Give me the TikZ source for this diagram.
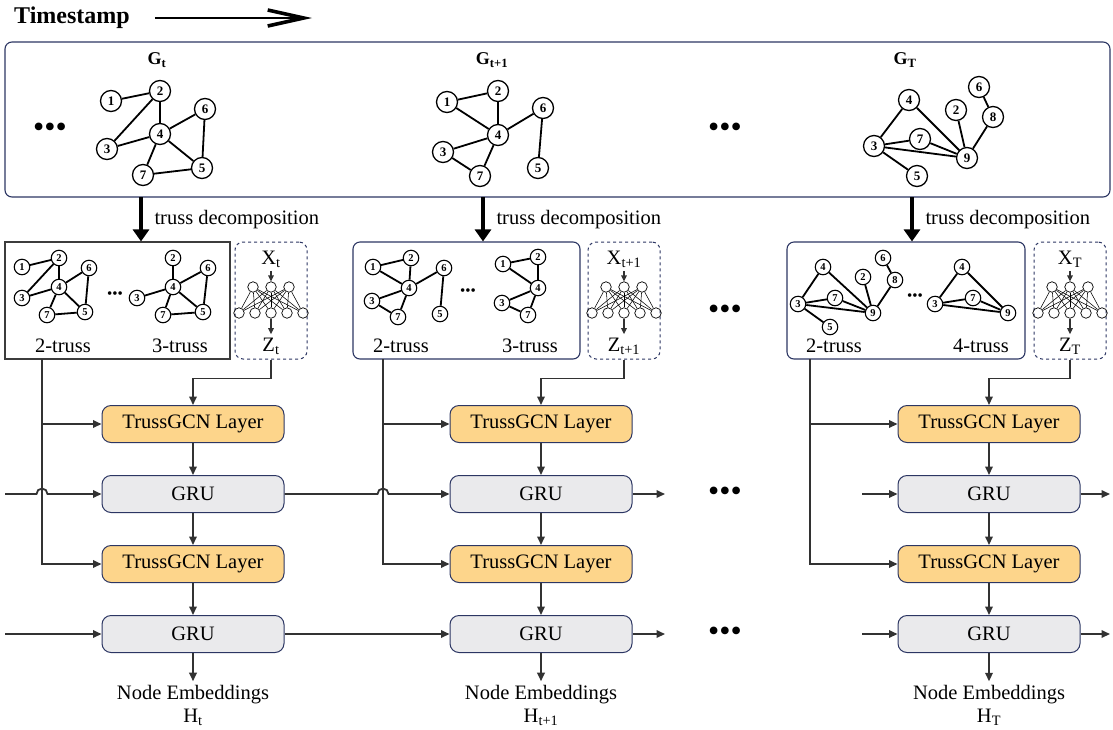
\documentclass[tikz,border=0pt]{standalone}
\usepackage{fontspec}
\setmainfont{Liberation Serif}
\usetikzlibrary{arrows.meta,calc}

\definecolor{navy}{RGB}{44,54,99}
\definecolor{gcnfill}{RGB}{253,213,139}
\definecolor{grufill}{RGB}{234,234,236}
\definecolor{wire}{RGB}{50,50,50}
\definecolor{boxgray}{RGB}{60,60,60}

\begin{document}
\begin{tikzpicture}[x=1pt,y=-1pt,
    font=\fontsize{20.5}{23}\selectfont,
    gn/.style={circle,draw,line width=1.3pt,minimum size=21pt,inner sep=0pt,font=\fontsize{13}{13}\selectfont\bfseries},
    sn/.style={circle,draw,line width=1.1pt,minimum size=15.5pt,inner sep=0pt,font=\fontsize{10.5}{10.5}\selectfont\bfseries},
    gline/.style={line width=1.8pt},
    nn/.style={circle,draw,line width=0.7pt,minimum size=10.5pt,inner sep=0pt},
    panel/.style={draw=navy,line width=1.1pt,rounded corners=7pt,inner sep=0pt},
    mlpbox/.style={draw=navy,line width=1pt,dashed,rounded corners=8pt,inner sep=0pt,minimum width=72pt,minimum height=117pt},
    gcn/.style={draw=navy,line width=1pt,rounded corners=9pt,fill=gcnfill,minimum width=182pt,minimum height=37pt},
    gru/.style={gcn,fill=grufill},
    link/.style={draw=wire,line width=1.8pt,-{Triangle[length=8.5pt,width=7.5pt]}},
    smallarr/.style={draw=wire,line width=1.4pt,-{Triangle[length=6pt,width=5.5pt]}},
    decomp/.style={line width=4.5pt,-{Triangle[length=12pt,width=16pt]}},
    ellip/.style={font=\fontsize{32}{32}\selectfont},
    sellip/.style={font=\fontsize{15}{15}\selectfont}]
  \useasboundingbox (0,0) rectangle (1113,729);

  % timeline
  \node[font=\fontsize{24}{24}\selectfont\bfseries,anchor=west,inner sep=0pt] (stamp) at (14,18) {Timestamp};
  \coordinate (arrend) at (312,18);
  \draw[line width=1.8pt,-{Straight Barb[length=36pt,width=16pt,line width=3.6pt]}] ([xshift=25pt]stamp.east) -- (arrend);

  % snapshots
  \node[panel,minimum width=1105pt,minimum height=155pt] (top) at (557.5,119.5) {};
  \node[font=\fontsize{18}{18}\selectfont\bfseries] (lab1) at (157,60) {G\textsubscript{t}};
  \node[font=\fontsize{18}{18}\selectfont\bfseries] (lab2) at (492,60) {G\textsubscript{t+1}};
  \node[font=\fontsize{18}{18}\selectfont\bfseries] (lab3) at (905,60) {G\textsubscript{T}};
  \node[ellip] (dA) at (50,130) {•••};
  \node[ellip] (dB) at (725,130) {•••};

  \foreach \n/\x/\y in {1/111/101,2/160/91,3/107/149,4/160/134,5/202/168,6/205/109,7/143/175}
    \node[gn] (a\n) at (\x,\y) {\n};
  \foreach \p/\q in {1/2,2/4,2/3,3/4,4/6,4/7,4/5,6/5,7/5}
    \draw[gline] (a\p) -- (a\q);

  \foreach \n/\x/\y in {1/447/102,2/498/91,3/443/152,4/498/135,5/538/168,6/543/108,7/480/176}
    \node[gn] (b\n) at (\x,\y) {\n};
  \foreach \p/\q in {1/2,2/4,1/4,4/6,6/5,3/4,3/7,7/4}
    \draw[gline] (b\p) -- (b\q);

  \foreach \n/\x/\y in {2/956/110,3/874/146,4/909/100,5/917/176,6/979/87,7/920/139,8/993/117,9/967/158}
    \node[gn] (c\n) at (\x,\y) {\n};
  \foreach \p/\q in {4/3,4/9,2/9,6/8,8/9,3/7,7/9,3/9,3/5}
    \draw[gline] (c\p) -- (c\q);

  % truss boxes and feature boxes
  \node[draw=boxgray,line width=1.1pt,inner sep=0pt,minimum width=225pt,minimum height=117pt] (tb1) at (117.5,300.5) {};
  \node[panel,minimum width=227pt,minimum height=117pt] (tb2) at (466.5,300.5) {};
  \node[panel,minimum width=238pt,minimum height=117pt] (tb3) at (906,300.5) {};
  \node[mlpbox] (mlp1) at (271,300.5) {};
  \node[mlpbox] (mlp2) at (624,300.5) {};
  \node[mlpbox] (mlp3) at (1070,300.5) {};

  \foreach \c/\x in {1/141,2/483,3/912} {
    \coordinate (dk\c) at (\x,197);
    \draw[decomp] (dk\c) -- (dk\c |- tb\c.north);
    \node[anchor=west] (dl\c) at (\x+10,220) {truss decomposition};
  }

  \foreach \n/\x/\y in {1/22/267,2/59/258,3/22/298,4/59/287,5/85/312,6/89/268,7/47/315}
    \node[sn] (d\n) at (\x,\y) {\n};
  \foreach \p/\q in {1/2,2/4,2/3,3/4,4/6,4/7,4/5,6/5,7/5}
    \draw[gline] (d\p) -- (d\q);
  \foreach \n/\x/\y in {2/173/258,3/137/298,4/173/287,5/203/312,6/208/268,7/163/315}
    \node[sn] (e\n) at (\x,\y) {\n};
  \foreach \p/\q in {2/4,3/4,4/6,6/5,4/7,4/5,7/5}
    \draw[gline] (e\p) -- (e\q);

  \foreach \n/\x/\y in {1/373/267,2/411/258,3/372/301,4/409/288,5/440/314,6/444/268,7/398/317}
    \node[sn] (f\n) at (\x,\y) {\n};
  \foreach \p/\q in {1/2,2/4,1/4,4/6,6/5,3/4,3/7,7/4}
    \draw[gline] (f\p) -- (f\q);
  \foreach \n/\x/\y in {1/503/264,2/538/257,3/502/303,4/538/288,7/528/315}
    \node[sn] (g\n) at (\x,\y) {\n};
  \foreach \p/\q in {1/2,2/4,1/4,3/4,3/7,7/4}
    \draw[gline] (g\p) -- (g\q);

  \foreach \n/\x/\y in {2/863/277,3/798/304,4/823/267,5/830/327,6/883/258,7/835/298,8/895/280,9/873/313}
    \node[sn] (h\n) at (\x,\y) {\n};
  \foreach \p/\q in {4/3,4/9,2/9,6/8,8/9,3/7,7/9,3/9,3/5}
    \draw[gline] (h\p) -- (h\q);
  \foreach \n/\x/\y in {3/935/304,4/962/267,7/973/298,9/1008/313}
    \node[sn] (i\n) at (\x,\y) {\n};
  \foreach \p/\q in {4/3,4/9,3/7,7/9,3/9}
    \draw[gline] (i\p) -- (i\q);

  \node[sellip] (sd1) at (115,295) {•••};
  \node[sellip] (sd2) at (468,292) {•••};
  \node[sellip] (sd3) at (915,297) {•••};
  \node[ellip] (dC) at (725,312) {•••};
  \node at (63,346) (tl1) {2-truss};
  \node at (180,346) (tl2) {3-truss};
  \node at (401,346) (tl3) {2-truss};
  \node at (530,346) (tl4) {3-truss};
  \node at (834,346) (tl5) {2-truss};
  \node at (981,346) (tl6) {4-truss};

  % feature MLPs
  \foreach \m/\cx/\sub in {1/271/t,2/624/t+1,3/1070/T} {
    \node (x\m) at (\cx,259) {X\textsubscript{\sub}};
    \node (z\m) at (\cx,346) {Z\textsubscript{\sub}};
    \foreach \i in {1,2,3}
      \node[nn] (u\m\i) at (\cx+18*\i-36,287) {};
    \foreach \j in {1,...,5}
      \node[nn] (w\m\j) at (\cx+16*\j-48,313) {};
    \foreach \i in {1,2,3}
      \foreach \j in {1,...,5}
        \draw[line width=0.55pt] (u\m\i) -- (w\m\j);
    \draw[smallarr] (x\m.south) -- (u\m2.north);
    \draw[smallarr] (w\m3.south) -- (z\m.north);
  }

  % recurrent layers
  \foreach \c/\x/\vx/\sub in {1/193/42/t,2/541/383/t+1,3/989/810/T} {
    \node[gcn] (ga\c) at (\x,424) {TrussGCN Layer};
    \node[gru] (ra\c) at (\x,494) {GRU};
    \node[gcn] (gb\c) at (\x,564) {TrussGCN Layer};
    \node[gru] (rb\c) at (\x,634) {GRU};
    \node[align=center] (emb\c) at (\x,705) {Node Embeddings\\H\textsubscript{\sub}};
    \draw[link] (ga\c) -- (ra\c);
    \draw[link] (ra\c) -- (gb\c);
    \draw[link] (gb\c) -- (rb\c);
    \draw[link] (rb\c) -- (emb\c);
    \coordinate (v\c) at (\vx,359);
    \draw[link] (v\c) |- (ga\c.west);
    \draw[link] (v\c) |- (gb\c.west);
    \draw[link] (mlp\c.south) -- ++(0,19) -| (ga\c.north);
  }

  \coordinate (inA) at (5,494);
  \coordinate (inB) at (5,634);
  \coordinate (outA) at (665,494);
  \coordinate (outB) at (665,634);
  \coordinate (inC) at (862,494);
  \coordinate (inD) at (862,634);
  \coordinate (endA) at (1110,494);
  \coordinate (endB) at (1110,634);
  \draw[link] (inA) -- ($(v1 |- ra1.west)+(-5.5,0)$) arc[start angle=180,end angle=360,radius=5.5] -- (ra1.west);
  \draw[link] (ra1.east) -- ($(v2 |- ra2.west)+(-5.5,0)$) arc[start angle=180,end angle=360,radius=5.5] -- (ra2.west);
  \draw[link] (ra2.east) -- (outA);
  \draw[link] (inC) -- (ra3.west);
  \draw[link] (ra3.east) -- (endA);
  \draw[link] (inB) -- (rb1.west);
  \draw[link] (rb1.east) -- (rb2.west);
  \draw[link] (rb2.east) -- (outB);
  \draw[link] (inD) -- (rb3.west);
  \draw[link] (rb3.east) -- (endB);
  \node[ellip] (dD) at (725,494) {•••};
  \node[ellip] (dE) at (725,634) {•••};
\end{tikzpicture}
\end{document}
